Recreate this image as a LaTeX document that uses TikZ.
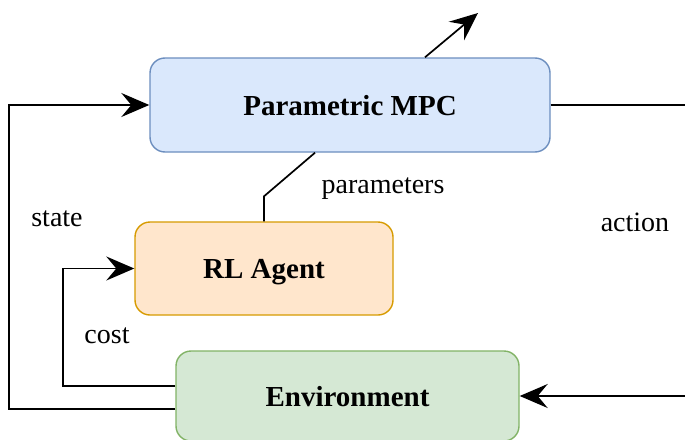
\documentclass[tikz,border=0pt]{standalone}
\usepackage{fontspec}
\setmainfont{Liberation Serif}
\usetikzlibrary{arrows.meta,calc}
\definecolor{bfill}{HTML}{DAE8FC}\definecolor{bdraw}{HTML}{6C8EBF}
\definecolor{ofill}{HTML}{FFE6CC}\definecolor{odraw}{HTML}{D79B00}
\definecolor{gfill}{HTML}{D5E8D4}\definecolor{gdraw}{HTML}{82B366}
\tikzset{
  box/.style={rounded corners=15pt, line width=1.4pt, inner sep=0pt, align=center,
    font=\fontsize{29}{34}\selectfont\bfseries, text depth=0pt},
  lbl/.style={inner sep=0pt, anchor=base, font=\fontsize{28}{33}\selectfont},
  conn/.style={line width=1.7pt, draw=black},
  arr/.style={conn, -{Stealth[length=28pt,width=24pt,inset=10pt]}},
}
\begin{document}
\begin{tikzpicture}[x=1pt,y=-1pt]
\clip (0,0) rectangle (685,439);
\fill[white] (0,0) rectangle (685,439);
\node[box, fill=bfill, draw=bdraw, minimum width=400pt, minimum height=94pt] (mpc) at (350,105) {Parametric MPC};
\node[box, fill=ofill, draw=odraw, minimum width=258pt, minimum height=93pt] (rl) at (264,268.5) {RL Agent};
\node[box, fill=gfill, draw=gdraw, minimum width=343pt, minimum height=90pt] (env) at (347.5,396) {Environment};
\coordinate (out) at (478,13);
\draw[arr] ($(mpc.north)+(75,0)$) -- (out);
\draw[conn] (rl.north) -- ++(0,-25) -- ($(mpc.south)+(-35,0)$);
\draw[arr] (mpc.east) -- ++(150,0) |- (env.east);
\draw[arr] ($(env.west)+(0,13)$) -- ++(-166,0) |- (mpc.west);
\draw[arr] ($(env.west)+(0,-10)$) -- ++(-112,0) |- (rl.west);
\node[lbl] (state) at (57,226) {state};
\node[lbl] (params) at (383,193) {parameters};
\node[lbl] (action) at (635,231) {action};
\node[lbl] (cost) at (107,343) {cost};
\end{tikzpicture}
\end{document}
